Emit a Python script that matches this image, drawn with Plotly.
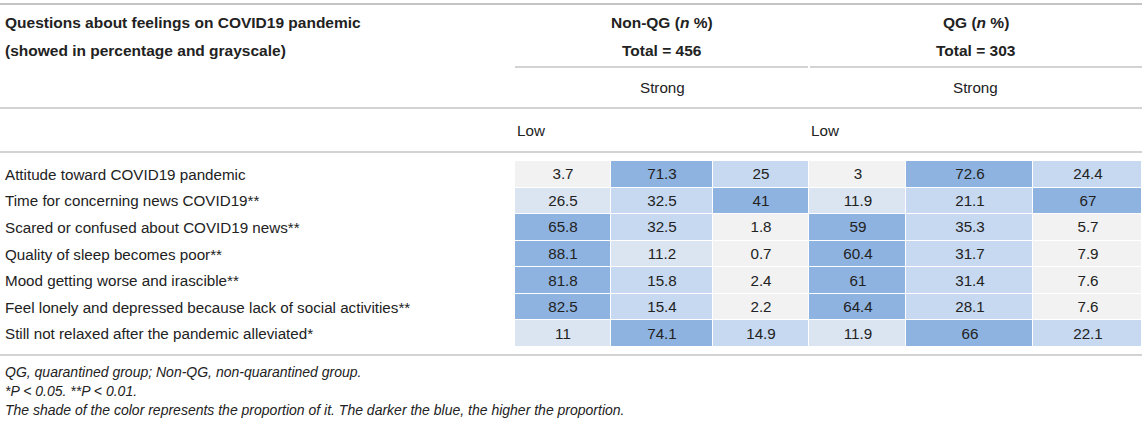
import plotly.graph_objects as go

W, H = 1146, 424

# ---------------- data ----------------
questions = [
    "Attitude toward COVID19 pandemic",
    "Time for concerning news COVID19**",
    "Scared or confused about COVID19 news**",
    "Quality of sleep becomes poor**",
    "Mood getting worse and irascible**",
    "Feel lonely and depressed because lack of social activities**",
    "Still not relaxed after the pandemic alleviated*",
]
nonqg_low = [3.7, 26.5, 65.8, 88.1, 81.8, 82.5, 11]
nonqg_mid = [71.3, 32.5, 32.5, 11.2, 15.8, 15.4, 74.1]
nonqg_strong = [25, 41, 1.8, 0.7, 2.4, 2.2, 14.9]
qg_low = [3, 11.9, 59, 60.4, 61, 64.4, 11.9]
qg_mid = [72.6, 21.1, 35.3, 31.7, 31.4, 28.1, 66]
qg_strong = [24.4, 67, 5.7, 7.9, 7.6, 7.6, 22.1]

# shade level (0 = gray, 1 = very light blue, 2 = light blue, 3 = blue)
shade_nonqg_low = [0, 1, 3, 3, 3, 3, 1]
shade_nonqg_mid = [3, 2, 2, 1, 2, 2, 3]
shade_nonqg_strong = [2, 3, 0, 0, 0, 0, 2]
shade_qg_low = [0, 1, 3, 3, 3, 3, 1]
shade_qg_mid = [3, 2, 2, 2, 2, 2, 3]
shade_qg_strong = [2, 3, 0, 0, 0, 0, 2]

group_headers = ["Non-QG (<i>n</i> %)", "QG (<i>n</i> %)"]
group_totals = [456, 303]
footnotes = [
    "QG, quarantined group; Non-QG, non-quarantined group.",
    "*P < 0.05. **P < 0.01.",
    "The shade of the color represents the proportion of it. The darker the blue, the higher the proportion.",
]

# ---------------- layout helpers ----------------
FONT = "Liberation Sans"
TXT = "#222222"
LINE = "#c4c4c4"
SHADES = ["#f2f2f2", "#dbe5f1", "#c6d9f0", "#8eb3e0"]
FS = 15.2
FS_HEAD = 15.5
FS_NOTE = 14

col_widths = [96, 102, 96, 97, 127, 109]
x_edges = [0]
for w in col_widths:
    x_edges.append(x_edges[-1] + w)

TABLE_L, TABLE_R = 515, 1142
TABLE_T, TABLE_B = 161, 347


def px(x):
    return x / W


def py(y):
    return 1 - y / H


cols_vals = [nonqg_low, nonqg_mid, nonqg_strong, qg_low, qg_mid, qg_strong]
cols_shade = [shade_nonqg_low, shade_nonqg_mid, shade_nonqg_strong,
              shade_qg_low, shade_qg_mid, shade_qg_strong]
n_rows = len(questions)
z = [[cols_shade[c][r] for c in range(6)] for r in range(n_rows)]
text = [[f"{cols_vals[c][r]:g}" for c in range(6)] for r in range(n_rows)]

colorscale = []
for i, col in enumerate(SHADES):
    colorscale.append([i / 4, col])
    colorscale.append([(i + 1) / 4, col])

fig = go.Figure(go.Heatmap(
    z=z, x=x_edges, y=list(range(n_rows)),
    text=text, texttemplate="%{text}",
    textfont=dict(family=FONT, size=FS, color=TXT),
    colorscale=colorscale, zmin=-0.5, zmax=3.5, showscale=False,
    xgap=1, ygap=1, hoverinfo="skip",
))

fig.update_layout(
    width=W, height=H, margin=dict(l=0, r=0, t=0, b=0),
    paper_bgcolor="white", plot_bgcolor="white",
    xaxis=dict(domain=[px(TABLE_L), px(TABLE_R)], range=[0, x_edges[-1]],
               visible=False, fixedrange=True),
    yaxis=dict(domain=[py(TABLE_B), py(TABLE_T)], range=[n_rows - 0.5, -0.5],
               visible=False, fixedrange=True),
    font=dict(family=FONT, size=FS, color=TXT),
    showlegend=False,
)

shapes = []


def hline(x0, x1, y, w=1.5):
    shapes.append(dict(type="line", xref="paper", yref="paper",
                       x0=px(x0), x1=px(x1), y0=py(y), y1=py(y),
                       line=dict(color=LINE, width=w)))


hline(0, TABLE_R, 4, 2)
hline(515, 808, 67)
hline(810, TABLE_R, 67)
hline(0, TABLE_R, 108)
hline(0, TABLE_R, 152)
hline(0, TABLE_R, 355)
fig.update_layout(shapes=shapes)

ann = []


def label(x, y, s, anchor="left", size=FS):
    ann.append(dict(x=px(x), y=py(y), xref="paper", yref="paper", text=s,
                    showarrow=False, xanchor=anchor, yanchor="middle",
                    font=dict(family=FONT, size=size, color=TXT)))


label(3, 23, "<b>Questions about feelings on COVID19 pandemic</b>", size=FS_HEAD)
label(3, 50, "<b>(showed in percentage and grayscale)</b>", size=FS_HEAD)

group_centers = [(TABLE_L + 809) / 2, (809 + TABLE_R) / 2]
for gc, gh, gt in zip(group_centers, group_headers, group_totals):
    label(gc, 23, f"<b>{gh}</b>", anchor="center", size=FS_HEAD)
    label(gc, 50, f"<b>Total = {gt}</b>", anchor="center", size=FS_HEAD)
    label(gc, 87, "Strong", anchor="center")

label(TABLE_L, 130, "Low")
label(809, 130, "Low")

for i, q in enumerate(questions):
    ann.append(dict(x=px(3), y=i, xref="paper", yref="y", text=q,
                    showarrow=False, xanchor="left", yanchor="middle",
                    font=dict(family=FONT, size=FS, color=TXT)))

for i, f in enumerate(footnotes):
    label(3, 372 + i * 19, f"<i>{f}</i>", size=FS_NOTE)

fig.update_layout(annotations=ann)

fig.write_html("out.html",
               config={"displayModeBar": False, "staticPlot": True},
               post_script="document.body.style.margin='0px';document.body.style.padding='0px';")
